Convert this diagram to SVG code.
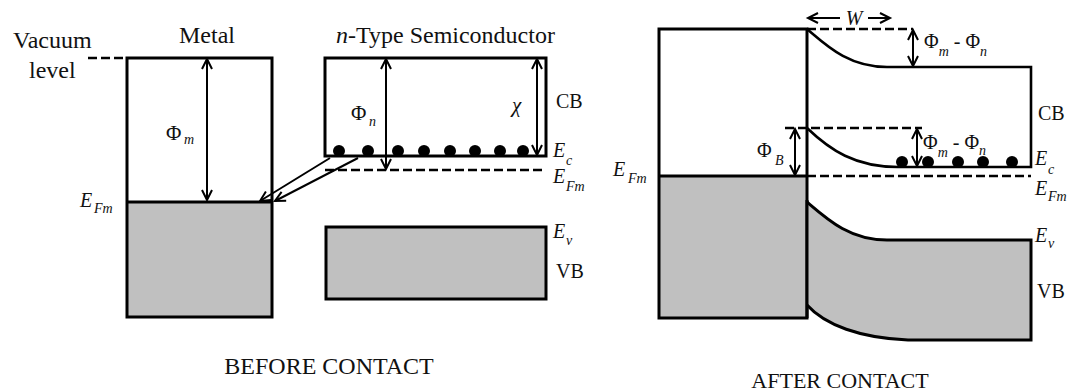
<svg xmlns="http://www.w3.org/2000/svg" width="1073" height="392" viewBox="0 0 1073 392" font-family="'Liberation Serif', 'Times New Roman', serif">
<style>
text,tspan{font-family:"Liberation Serif","Times New Roman",serif;fill:#111}
.big{font-size:24px}
.lab{font-size:20px}
.phi{font-size:21px}
.it{font-style:italic}
.sub{font-size:14px;font-style:italic}
.box{fill:none;stroke:#000;stroke-width:3}
.band{fill:#c0c0c0;stroke:#000;stroke-width:3}
.edge{fill:none;stroke:#000;stroke-width:2.6}
.dash{fill:none;stroke:#000;stroke-width:2.4;stroke-dasharray:9 4}
.arr{fill:none;stroke:#000;stroke-width:2;marker-end:url(#ah);marker-start:url(#ah)}
.arr1{fill:none;stroke:#000;stroke-width:2;marker-end:url(#ah)}
.dot{fill:#000}
</style>
<defs>
<marker id="ah" markerUnits="userSpaceOnUse" markerWidth="14" markerHeight="14" refX="11" refY="6" orient="auto-start-reverse" viewBox="0 0 14 12">
<path d="M1,1 L11,6 L1,11" fill="none" stroke="#000" stroke-width="2"/>
</marker>
</defs>

<!-- BEFORE CONTACT -->
<g id="vacuum-level">
<line class="dash" x1="88" y1="58" x2="127" y2="58"/>
<text class="big" x="13" y="48" font-family="Liberation Serif">Vacuum</text>
<text class="big" x="29" y="78" font-family="Liberation Serif">level</text>
</g>
<g id="metal-before">
<rect x="127" y="202" width="145" height="115" fill="#c0c0c0"/>
<rect class="box" x="127" y="58" width="145" height="259"/>
<line class="box" x1="127" y1="202" x2="272" y2="202"/>
<text class="big" x="179" y="43" font-family="Liberation Serif">Metal</text>
<text class="phi" x="166" y="140">Φ</text><text class="sub" x="184" y="144">m</text>
<text class="lab it" x="80" y="207">E</text><text class="sub" x="94" y="213">Fm</text>
</g>
<g id="semi-cb-before">
<g class="dot">
<circle cx="339" cy="151" r="6"/><circle cx="368" cy="151" r="6"/><circle cx="398" cy="151" r="6"/><circle cx="424" cy="151" r="6"/>
<circle cx="450" cy="151" r="6"/><circle cx="475" cy="151" r="6"/><circle cx="500" cy="151" r="6"/><circle cx="523" cy="151" r="6"/>
</g>
<rect class="box" x="325" y="58" width="221" height="98"/>
<line class="dash" x1="325" y1="170" x2="546" y2="170"/>
<text class="big" x="336" y="43" font-family="Liberation Serif"><tspan class="it">n</tspan>-Type Semiconductor</text>
<text class="phi" x="351" y="120">Φ</text><text class="sub" x="369" y="126">n</text>
<text class="phi it" x="512" y="112">χ</text>
<text class="lab" x="556" y="108">CB</text>
<text class="lab it" x="553" y="157">E</text><text class="sub" x="566" y="165">c</text>
<text class="lab it" x="553" y="183">E</text><text class="sub" x="566" y="191">Fm</text>
</g>
<g id="semi-vb-before">
<rect class="band" x="326" y="227" width="220" height="72"/>
<text class="lab it" x="553" y="238">E</text><text class="sub" x="566" y="245">v</text>
<text class="lab" x="556" y="278">VB</text>
</g>
<text class="big" x="329" y="374" text-anchor="middle">BEFORE CONTACT</text>

<!-- AFTER CONTACT -->
<g id="metal-after">
<rect x="659" y="176" width="148" height="142" fill="#c0c0c0"/>
<rect class="box" x="659" y="29" width="148" height="289"/>
<line class="box" x1="659" y1="176" x2="807" y2="176"/>
<text class="lab it" x="613" y="176">E</text><text class="sub" x="628" y="183">Fm</text>
</g>
<g id="semi-after">
<path class="band" d="M807,202 C828,220 850,240 887,240 L1031,240 L1031,340 L908,340 C860,338 825,325 807,305"/>
<line x1="807" y1="200" x2="807" y2="318" stroke="#000" stroke-width="3"/>
<g class="dot">
<circle cx="902" cy="162" r="6"/><circle cx="928" cy="162" r="6"/><circle cx="958" cy="162" r="6"/><circle cx="983" cy="162" r="6"/><circle cx="1012" cy="162" r="6"/>
</g>
<path class="edge" d="M807,29 C826,45 848,67 887,67 L1031,67 L1031,167 L898,167 C855,167 830,150 807,128"/>
<line class="dash" x1="807" y1="29" x2="913" y2="29"/>
<line class="dash" x1="785" y1="128" x2="922" y2="128"/>
<line class="dash" x1="807" y1="176" x2="1031" y2="176"/>
<text class="lab" x="1038" y="120">CB</text>
<text class="lab it" x="1035" y="165">E</text><text class="sub" x="1048" y="174">c</text>
<text class="lab it" x="1035" y="195">E</text><text class="sub" x="1048" y="201">Fm</text>
<text class="lab it" x="1035" y="242">E</text><text class="sub" x="1048" y="248">v</text>
<text class="lab" x="1037" y="298">VB</text>
<text class="lab" x="924" y="48">Φ<tspan class="sub" dy="8">m</tspan><tspan dy="-8"> - Φ</tspan><tspan class="sub" dy="8">n</tspan></text>
<text class="lab" x="923" y="149">Φ<tspan class="sub" dy="8">m</tspan><tspan dy="-8"> - Φ</tspan><tspan class="sub" dy="6">n</tspan></text>
<text class="lab" x="757" y="157">Φ</text><text class="sub" x="775" y="165">B</text>
<text class="lab it" x="854" y="25" text-anchor="middle">W</text>
</g>
<text class="lab" x="840" y="388" text-anchor="middle" style="font-size:22px">AFTER CONTACT</text>

<g id="connectors">
<line class="arr" x1="207" y1="59" x2="207" y2="200"/>
<line class="arr" x1="386" y1="59" x2="386" y2="169"/>
<line class="arr" x1="537" y1="59" x2="537" y2="155"/>
<line class="arr1" x1="330" y1="158" x2="260" y2="201"/>
<line class="arr1" x1="358" y1="158" x2="275" y2="201"/>
<line class="arr1" x1="840" y1="18" x2="808" y2="18"/>
<line class="arr1" x1="868" y1="18" x2="890" y2="18"/>
<line class="arr" x1="913" y1="30" x2="913" y2="66"/>
<line class="arr" x1="917" y1="129" x2="917" y2="166"/>
<line class="arr" x1="795" y1="129" x2="795" y2="175"/>
</g>
</svg>
